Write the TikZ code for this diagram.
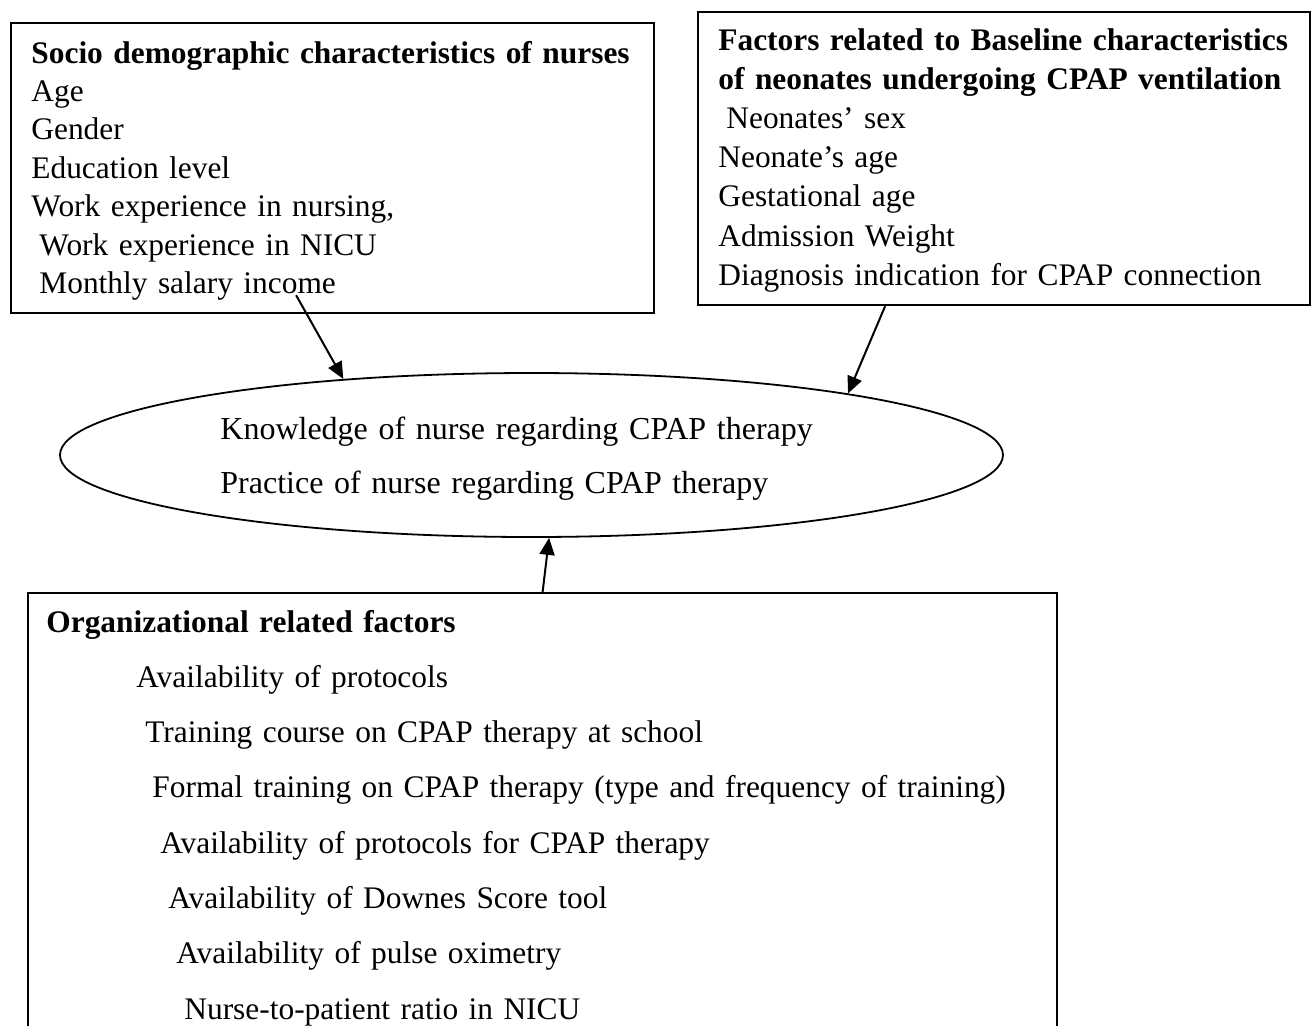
\documentclass[tikz,border=0pt]{standalone}
\usepackage{fontspec}
\setmainfont{Liberation Serif}
\usetikzlibrary{arrows.meta,shapes.geometric}

\begin{document}
\begin{tikzpicture}[x=0.5pt,y=-0.5pt,
    box/.style={draw,line width=1.1pt,anchor=north west,inner sep=0pt},
    txt/.style={anchor=base west,inner sep=0pt,align=left,font=\fontsize{15.7}{#1}\selectfont},
    txt/.default=19.2,
    arr/.style={-{Triangle[length=8.5pt,width=7.5pt]},line width=1pt}]
  \useasboundingbox (0,0) rectangle (1314,1025);
  \clip (0,0) rectangle (1314,1025);
  % boxes and the ellipse
  \node[box,minimum width=321.5pt,minimum height=145pt] (soc) at (10,22) {};
  \node[box,minimum width=306pt,minimum height=146.5pt] (fac) at (697,11) {};
  \node[box,minimum width=514.5pt,minimum height=240pt] (org) at (27,592) {};
  \node[draw,ellipse,line width=0.9pt,inner sep=0pt,minimum width=471.5pt,minimum height=82pt] (ell) at (531.5,455) {};
  % texts
  \node[txt,text width=310pt] (soctxt) at (31,63) {\textbf{Socio demographic characteristics of nurses}\\
    Age\\ Gender\\ Education level\\ Work experience in nursing,\\
    \hspace*{4pt}Work experience in NICU\\ \hspace*{4pt}Monthly salary income};
  \node[txt=19.6,text width=292pt] (factxt) at (718,50) {\textbf{Factors related to Baseline characteristics}\\
    \textbf{of neonates undergoing CPAP ventilation}\\ \hspace*{4pt}Neonates’ sex\\ Neonate’s age\\
    Gestational age\\ Admission Weight\\ Diagnosis indication for CPAP connection};
  \node[txt=27,text width=320pt,font=\fontsize{16}{27}\selectfont] (elltxt) at (220,439) {Knowledge of nurse regarding CPAP therapy\\
    Practice of nurse regarding CPAP therapy};
  \node[txt=27.65,text width=500pt] (orgtxt) at (46,632) {\textbf{Organizational related factors}\\
    \hspace*{45pt}Availability of protocols\\
    \hspace*{49.5pt}Training course on CPAP therapy at school\\
    \hspace*{53pt}Formal training on CPAP therapy (type and frequency of training)\\
    \hspace*{57pt}Availability of protocols for CPAP therapy\\
    \hspace*{61pt}Availability of Downes Score tool\\
    \hspace*{65pt}Availability of pulse oximetry\\
    \hspace*{69pt}Nurse-to-patient ratio in NICU};
  % arrows
  \draw[arr] ([xshift=-18.25pt,yshift=9.5pt]soc.south) -- (ell.158.5);
  \draw[arr] ([xshift=-59.5pt]fac.south) -- (ell.11);
  \draw[arr] (org.north) -- (ell.-78);
\end{tikzpicture}
\end{document}
